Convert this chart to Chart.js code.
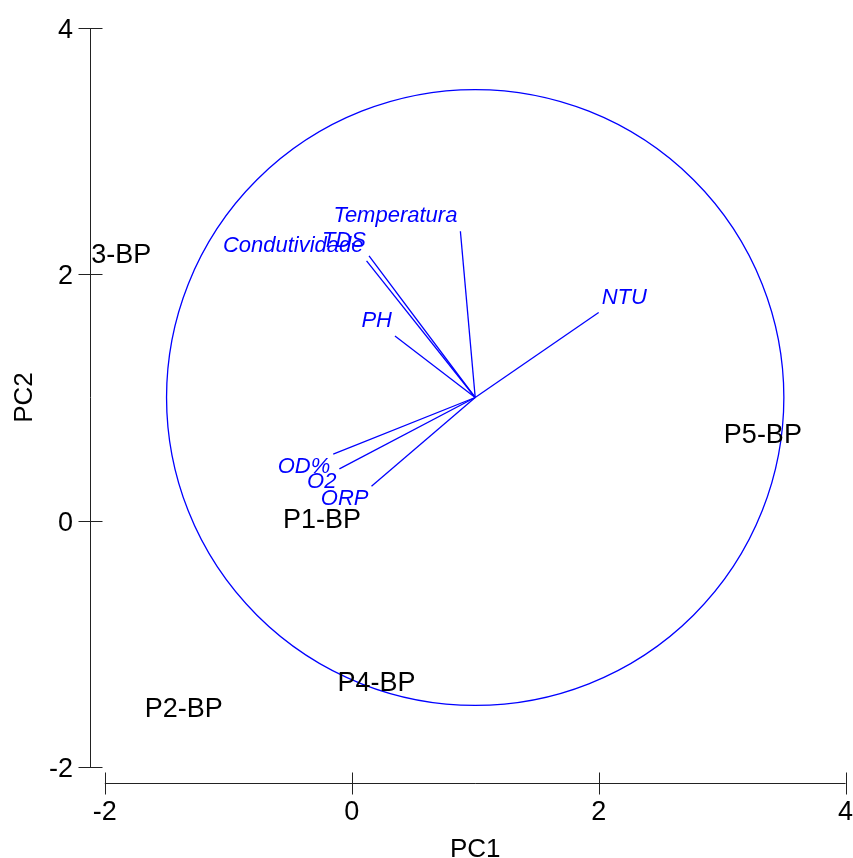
<!DOCTYPE html>
<html>
<head>
<meta charset="utf-8">
<script src="https://cdn.jsdelivr.net/npm/chart.js@4/dist/chart.umd.min.js"></script>
<style>
  html, body { margin: 0; padding: 0; background: #fff; }
</style>
</head>
<body>
<canvas id="chart" width="853" height="858"></canvas>
<script>
// sites (PC1, PC2 scores)
const siteNames = ['P1-BP', 'P2-BP', 'P3-BP', 'P4-BP', 'P5-BP'];
const siteX = [-0.24, -1.36, -1.94, 0.20, 3.33];
const siteY = [0.02, -1.51, 2.17, -1.30, 0.71];

// variable arrows (tips), all drawn from the circle centre
const varNames = ['NTU', 'Temperatura', 'Condutividade', 'TDS', 'PH', 'OD%', 'O2', 'ORP'];
const varX = [2.00, 0.88, 0.12, 0.14, 0.35, -0.15, -0.10, 0.16];
const varY = [1.69, 2.35, 2.11, 2.15, 1.50, 0.54, 0.42, 0.28];

const circleCenter = [1, 1];
const circleRadius = 2.5;

const xTicks = [-2, 0, 2, 4];
const yTicks = [-2, 0, 2, 4];
const xTitle = 'PC1';
const yTitle = 'PC2';

const FONT = '"Liberation Sans", Arial, Helvetica, sans-serif';
const BLUE = '#0000ff';

const arrowSets = varNames.map((name, i) => ({
  label: name,
  data: [{ x: circleCenter[0], y: circleCenter[1] }, { x: varX[i], y: varY[i] }],
  showLine: true,
  borderColor: BLUE,
  borderWidth: 1.3,
  pointRadius: 0,
  fill: false
}));

const siteSet = {
  label: 'sites',
  data: siteX.map((x, i) => ({ x: x, y: siteY[i] })),
  pointRadius: 0,
  showLine: false
};

const biplotPlugin = {
  id: 'biplot',
  beforeDatasetsDraw(chart) {
    const ctx = chart.ctx;
    const xs = chart.scales.x, ys = chart.scales.y;
    const area = chart.chartArea;
    // correlation circle
    const cx = xs.getPixelForValue(circleCenter[0]);
    const cy = ys.getPixelForValue(circleCenter[1]);
    const rx = xs.getPixelForValue(circleCenter[0] + circleRadius) - cx;
    const ry = cy - ys.getPixelForValue(circleCenter[1] + circleRadius);
    ctx.save();
    ctx.beginPath();
    ctx.rect(area.left, area.top, area.right - area.left, area.bottom - area.top);
    ctx.clip();
    ctx.strokeStyle = BLUE;
    ctx.lineWidth = 1.3;
    ctx.beginPath();
    ctx.ellipse(cx, cy, rx, ry, 0, 0, Math.PI * 2);
    ctx.stroke();
    ctx.restore();
  },
  afterDatasetsDraw(chart) {
    const ctx = chart.ctx;
    const xs = chart.scales.x, ys = chart.scales.y;
    const area = chart.chartArea;
    ctx.save();

    // axes
    ctx.strokeStyle = '#222';
    ctx.lineWidth = 1;
    ctx.fillStyle = '#000';
    const ax = Math.round(area.left) + 0.5;
    ctx.beginPath();
    ctx.moveTo(ax, ys.getPixelForValue(yTicks[0]));
    ctx.lineTo(ax, ys.getPixelForValue(yTicks[yTicks.length - 1]));
    yTicks.forEach(t => {
      const py = Math.round(ys.getPixelForValue(t)) + 0.5;
      ctx.moveTo(ax - 12, py);
      ctx.lineTo(ax + 12, py);
    });
    const ay = Math.round(area.bottom) + 0.5;
    ctx.moveTo(xs.getPixelForValue(xTicks[0]), ay);
    ctx.lineTo(xs.getPixelForValue(xTicks[xTicks.length - 1]), ay);
    xTicks.forEach(t => {
      const px = Math.round(xs.getPixelForValue(t)) + 0.5;
      ctx.moveTo(px, ay - 11);
      ctx.lineTo(px, ay + 11);
    });
    ctx.stroke();

    ctx.font = '27px ' + FONT;
    ctx.textAlign = 'right';
    ctx.textBaseline = 'alphabetic';
    yTicks.forEach(t => {
      ctx.fillText(String(t), area.left - 17, ys.getPixelForValue(t) + 10);
    });
    ctx.textAlign = 'center';
    xTicks.forEach(t => {
      ctx.fillText(String(t), xs.getPixelForValue(t), area.bottom + 37);
    });

    // axis titles
    ctx.font = '26px ' + FONT;
    const xMid = (xs.getPixelForValue(xTicks[0]) + xs.getPixelForValue(xTicks[xTicks.length - 1])) / 2;
    ctx.fillText(xTitle, xMid, 857);
    const yMid = (ys.getPixelForValue(yTicks[0]) + ys.getPixelForValue(yTicks[yTicks.length - 1])) / 2;
    ctx.save();
    ctx.translate(32, yMid);
    ctx.rotate(-Math.PI / 2);
    ctx.fillText(yTitle, 0, 0);
    ctx.restore();

    // clip labels to the plot region
    ctx.beginPath();
    ctx.rect(area.left, 0, chart.width - area.left, area.bottom);
    ctx.clip();

    // site labels
    ctx.font = '27px ' + FONT;
    ctx.fillStyle = '#000';
    ctx.textAlign = 'center';
    siteNames.forEach((name, i) => {
      ctx.fillText(name, xs.getPixelForValue(siteX[i]), ys.getPixelForValue(siteY[i]) + 10);
    });

    // variable labels
    ctx.font = 'italic 22px ' + FONT;
    ctx.fillStyle = BLUE;
    const ox = xs.getPixelForValue(circleCenter[0]);
    const oy = ys.getPixelForValue(circleCenter[1]);
    varNames.forEach((name, i) => {
      const tx = xs.getPixelForValue(varX[i]);
      const ty = ys.getPixelForValue(varY[i]);
      let lx, ly;
      if (tx < ox) { ctx.textAlign = 'right'; lx = tx - 3; }
      else { ctx.textAlign = 'left'; lx = tx + 3; }
      if (ty < oy) ly = ty - 9; else ly = ty + 19;
      ctx.fillText(name, lx, ly);
    });

    ctx.restore();
  }
};

new Chart(document.getElementById('chart').getContext('2d'), {
  type: 'scatter',
  data: { datasets: arrowSets.concat([siteSet]) },
  options: {
    responsive: false,
    animation: false,
    layout: { padding: { left: 90, right: 0, top: 12, bottom: 75 } },
    scales: {
      x: { type: 'linear', min: -2.12, max: 4.06, display: false },
      y: { type: 'linear', min: -2.13, max: 4.13, display: false }
    },
    plugins: {
      legend: { display: false },
      tooltip: { enabled: false }
    }
  },
  plugins: [biplotPlugin]
});
</script>
</body>
</html>
